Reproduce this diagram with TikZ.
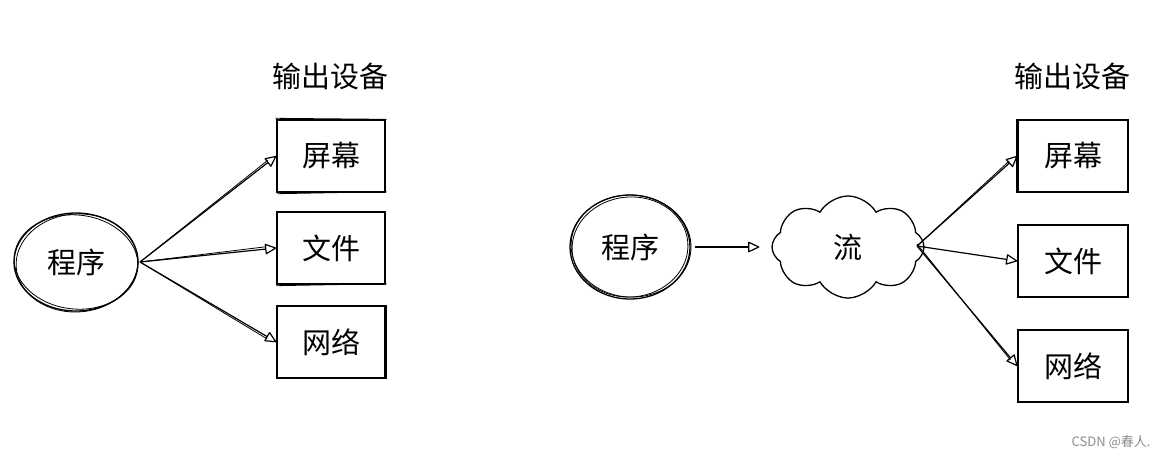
\documentclass[tikz,border=0pt]{standalone}
\usepackage{fontspec}
\newfontfamily\cjk{Noto Sans CJK SC}
\usetikzlibrary{arrows.meta,shapes.geometric,shapes.symbols}
\begin{document}
\begin{tikzpicture}[x=1pt,y=-1pt,
  every node/.style={font=\cjk\fontsize{29}{32}\selectfont},
  boxnode/.style={draw,line width=1.4pt,minimum width=108pt,minimum height=72pt,inner sep=0pt},
  prog/.style={draw,ellipse,line width=1.3pt,inner sep=0pt},
  sketch/.style={line width=0.8pt},
  sketchline/.style={line width=0.8pt,shorten >=11pt},
  flowarrow/.style={line width=1.2pt,-{Triangle[open,length=12pt,width=11pt,round]}},
  titlenode/.style={font=\cjk\fontsize{29}{32}\selectfont}]
\useasboundingbox[fill=white] (0,0) rectangle (1161,459);

% ---------- left diagram ----------
\node[prog,minimum width=124pt,minimum height=98pt] (p1) at (76,262) {程序};
\draw[sketch,rotate around={-6:(76,262)}] (76,262) ellipse [x radius=62pt,y radius=47pt];
\draw[sketch,rotate around={4:(76,262)}] (77,263) ellipse [x radius=61pt,y radius=49pt];
\node[titlenode] (t1) at (330,76) {输出设备};
\node[boxnode] (s1) at (331,156) {屏幕};
\node[boxnode] (f1) at (331,248) {文件};
\node[boxnode] (n1) at (331,342) {网络};
\draw[sketch] ([xshift=-1pt,yshift=1pt]s1.north west) -- ([xshift=1pt]s1.north east);
\draw[sketch] ([xshift=1pt,yshift=-1pt]s1.south west) -- ([xshift=1pt,yshift=1pt]s1.south east);
\draw[sketch] ([yshift=-1pt]f1.south west) -- ([xshift=1pt,yshift=1pt]f1.south east);
\draw[sketch] ([xshift=1pt]n1.north east) -- ([xshift=1pt]n1.south east);
\coordinate (o1) at (140,262);
\draw[flowarrow] (o1) -- (s1.west);
\draw[flowarrow] (o1) -- (f1.west);
\draw[flowarrow] (o1) -- (n1.west);
\draw[sketchline] (o1) -- ([yshift=2.5pt]s1.west);
\draw[sketchline] (o1) -- ([yshift=2.5pt]f1.west);
\draw[sketchline] (o1) -- ([yshift=-2.5pt]n1.west);

% ---------- right diagram ----------
\node[prog,minimum width=120pt,minimum height=104pt] (p2) at (630,247) {程序};
\draw[sketch,rotate around={5:(630,247)}] (630,247) ellipse [x radius=58pt,y radius=50pt];
\draw[sketch,rotate around={-3:(630,247)}] (631,246) ellipse [x radius=60pt,y radius=51pt];
\node[draw,cloud,cloud puffs=8,cloud puff arc=120,aspect=1.5,line width=1.3pt,
  minimum width=152pt,minimum height=102pt,inner sep=0pt] (c) at (848,247) {流};
\coordinate (o2) at (695,247);
\draw[flowarrow] (o2) -- ([xshift=-12pt]c.west);
\node[titlenode] (t2) at (1072,76) {输出设备};
\node[boxnode,minimum width=110pt] (s2) at (1073,156) {屏幕};
\node[boxnode,minimum width=110pt] (f2) at (1073,261) {文件};
\node[boxnode,minimum width=110pt] (n2) at (1073,366) {网络};
\draw[sketch] ([xshift=-1pt]s2.north west) -- ([xshift=-1pt]s2.south west);
\draw[sketch] ([xshift=-1pt]f2.north east) -- ([xshift=-1pt]f2.south east);
\draw[sketch] ([xshift=-1pt]n2.north east) -- ([xshift=-1pt]n2.south east);
\draw[sketch] ([xshift=1pt]n2.north west) -- ([xshift=1pt]n2.south west);
\coordinate (o3) at (917,246);
\draw[flowarrow] (o3) -- (s2.west);
\draw[flowarrow] (o3) -- (f2.west);
\draw[flowarrow] (o3) -- (n2.west);
\draw[sketchline] (o3) -- ([yshift=2.5pt]s2.west);
\draw[sketchline] ([yshift=2pt]o3) -- ([yshift=-2.5pt]n2.west);

% watermark
\node[font=\cjk\fontsize{13}{15}\selectfont,text=black!45,anchor=east] (wm) at (1154,442) {CSDN @春人.};
\end{tikzpicture}
\end{document}
